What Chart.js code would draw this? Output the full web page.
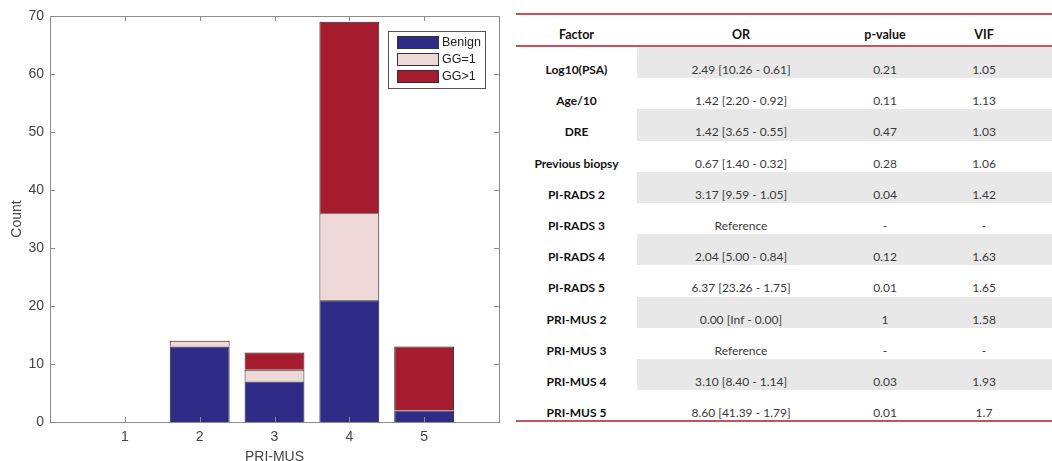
<!DOCTYPE html>
<html>
<head>
<meta charset="utf-8">
<script src="https://cdn.jsdelivr.net/npm/chart.js@4.4.1/dist/chart.umd.min.js"></script>
<style>
  html, body { margin: 0; padding: 0; background: #fff; width: 1052px; height: 461px; overflow: hidden; }
  #chartBox { position: absolute; left: 0; top: 0; width: 510px; height: 475px; }
  #orTable {
    position: absolute; left: 516px; top: 13px; width: 536px;
    border-collapse: separate; border-spacing: 0; table-layout: fixed;
    font-family: Lato, "Open Sans", sans-serif; color: #3a3a3a;
  }
  #orTable th, #orTable td { padding: 0; text-align: center; vertical-align: top; white-space: nowrap; }
  #orTable th {
    height: 34px; box-sizing: border-box; padding-top: 12px; line-height: 15px;
    font-size: 12.5px; font-weight: bold; color: #111;
    border-top: 2px solid #c9505c; border-bottom: 2px solid #c9505c;
  }
  #orTable td { height: 31.2px; box-sizing: border-box; padding-top: 16px; font-size: 12px; line-height: 14px; }
  #orTable td.f { font-weight: bold; color: #111; font-size: 12px; }
  #orTable tr.shade td.v { background: #e8e8e8; }
  #orTable tr:last-child td { border-bottom: 2px solid #c9505c; }
  #orTable .vif { padding-right: 9px; }
</style>
</head>
<body>
<div id="chartBox"><canvas id="barChart"></canvas></div>
<table id="orTable">
  <colgroup><col style="width:121px"><col style="width:208px"><col style="width:80px"><col style="width:127px"></colgroup>
  <thead><tr><th>Factor</th><th>OR</th><th>p-value</th><th class="vif">VIF</th></tr></thead>
  <tbody id="orBody"></tbody>
</table>

<script>
// bar chart data (PRI-MUS score vs count)
const categories = ['1', '2', '3', '4', '5'];
const benign = [0, 13, 7, 21, 2];
const gg1 = [0, 1, 2, 15, 0];
const ggOver1 = [0, 0, 3, 33, 11];
const yTicks = [0, 10, 20, 30, 40, 50, 60, 70];

// table data
const factors = ['Log10(PSA)', 'Age/10', 'DRE', 'Previous biopsy', 'PI-RADS 2', 'PI-RADS 3',
  'PI-RADS 4', 'PI-RADS 5', 'PRI-MUS 2', 'PRI-MUS 3', 'PRI-MUS 4', 'PRI-MUS 5'];
const orValues = ['2.49 [10.26 - 0.61]', '1.42 [2.20 - 0.92]', '1.42 [3.65 - 0.55]', '0.67 [1.40 - 0.32]',
  '3.17 [9.59 - 1.05]', 'Reference', '2.04 [5.00 - 0.84]', '6.37 [23.26 - 1.75]',
  '0.00 [Inf - 0.00]', 'Reference', '3.10 [8.40 - 1.14]', '8.60 [41.39 - 1.79]'];
const pValues = ['0.21', '0.11', '0.47', '0.28', '0.04', '-', '0.12', '0.01', '1', '-', '0.03', '0.01'];
const vifValues = ['1.05', '1.13', '1.03', '1.06', '1.42', '-', '1.63', '1.65', '1.58', '-', '1.93', '1.7'];

// fill the table
const body = document.getElementById('orBody');
factors.forEach((f, i) => {
  const tr = document.createElement('tr');
  if (i % 2 === 0) tr.className = 'shade';
  tr.innerHTML = `<td class="f">${f}</td><td class="v">${orValues[i]}</td><td class="v">${pValues[i]}</td><td class="v vif">${vifValues[i]}</td>`;
  body.appendChild(tr);
});

const FONT = '"Liberation Sans", Arial, sans-serif';
const AXIS_GRAY = '#8c8c8c';

// empty slots either side so categories sit at 1..5 on a 0..6 range
const labels = [''].concat(categories).concat(['']);
const pad = arr => [null].concat(arr).concat([null]);

// matlab-like box with inward ticks
const frame = {
  id: 'frame',
  afterDatasetsDraw(chart) {
    const { ctx, chartArea: a, scales: { x, y } } = chart;
    ctx.save();
    ctx.strokeStyle = AXIS_GRAY;
    ctx.lineWidth = 1;
    ctx.strokeRect(Math.round(a.left) + 0.5, Math.round(a.top) + 0.5,
      Math.round(a.right - a.left), Math.round(a.bottom - a.top));
    ctx.beginPath();
    yTicks.forEach(v => {
      const py = Math.round(y.getPixelForValue(v)) + 0.5;
      ctx.moveTo(a.left, py); ctx.lineTo(a.left + 5, py);
      ctx.moveTo(a.right, py); ctx.lineTo(a.right - 5, py);
    });
    categories.forEach((c, i) => {
      const px = Math.round(x.getPixelForValue(i + 1)) + 0.5;
      ctx.moveTo(px, a.bottom); ctx.lineTo(px, a.bottom - 5);
      ctx.moveTo(px, a.top); ctx.lineTo(px, a.top + 5);
    });
    ctx.stroke();
    ctx.restore();
  }
};

// legend box inside the plot, top right
const boxLegend = {
  id: 'boxLegend',
  afterDraw(chart) {
    const { ctx } = chart;
    const left = 388, top = 31, w = 97, h = 57;
    ctx.save();
    ctx.fillStyle = '#fff';
    ctx.fillRect(left, top, w, h);
    ctx.strokeStyle = '#555';
    ctx.lineWidth = 1;
    ctx.strokeRect(left + 0.5, top + 0.5, w, h);
    ctx.font = '12.5px ' + FONT;
    ctx.textBaseline = 'middle';
    chart.data.datasets.forEach((ds, i) => {
      const ry = top + 5 + i * 17;
      ctx.fillStyle = ds.backgroundColor;
      ctx.fillRect(left + 9, ry, 41, 13);
      ctx.strokeStyle = '#333';
      ctx.strokeRect(left + 9.5, ry + 0.5, 41, 12);
      ctx.fillStyle = '#222';
      ctx.fillText(ds.label, left + 54, ry + 7);
    });
    ctx.restore();
  }
};

new Chart(document.getElementById('barChart'), {
  type: 'bar',
  data: {
    labels: labels,
    datasets: [
      { label: 'Benign', data: pad(benign), backgroundColor: '#2f2b86' },
      { label: 'GG=1', data: pad(gg1), backgroundColor: '#eed8d8' },
      { label: 'GG>1', data: pad(ggOver1), backgroundColor: '#a41c2e' }
    ]
  },
  options: {
    responsive: true,
    maintainAspectRatio: false,
    animation: false,
    events: [],
    layout: { padding: { left: 0, right: 11, top: 16, bottom: 0 } },
    datasets: {
      bar: { borderColor: '#222', borderWidth: 1, barPercentage: 0.8, categoryPercentage: 1.0 }
    },
    plugins: { legend: { display: false }, tooltip: { enabled: false } },
    scales: {
      x: {
        stacked: true,
        offset: false,
        grid: { display: false, drawTicks: false },
        border: { display: false },
        ticks: {
          padding: 7, color: '#444', font: { family: FONT, size: 14 },
          maxRotation: 0, autoSkip: false
        },
        title: { display: true, text: 'PRI-MUS', color: '#444', font: { family: FONT, size: 14 }, padding: { top: 0, bottom: 9 } },
        afterFit: s => { s.height = 53; }
      },
      y: {
        stacked: true,
        min: 0, max: 70,
        grid: { display: false, drawTicks: false },
        border: { display: false },
        ticks: { stepSize: 10, padding: 6, color: '#444', font: { family: FONT, size: 14 } },
        title: { display: true, text: 'Count', color: '#444', font: { family: FONT, size: 14 }, padding: { top: 9, bottom: 0 } },
        afterFit: s => { s.width = 50; }
      }
    }
  },
  plugins: [frame, boxLegend]
});
</script>
</body>
</html>
